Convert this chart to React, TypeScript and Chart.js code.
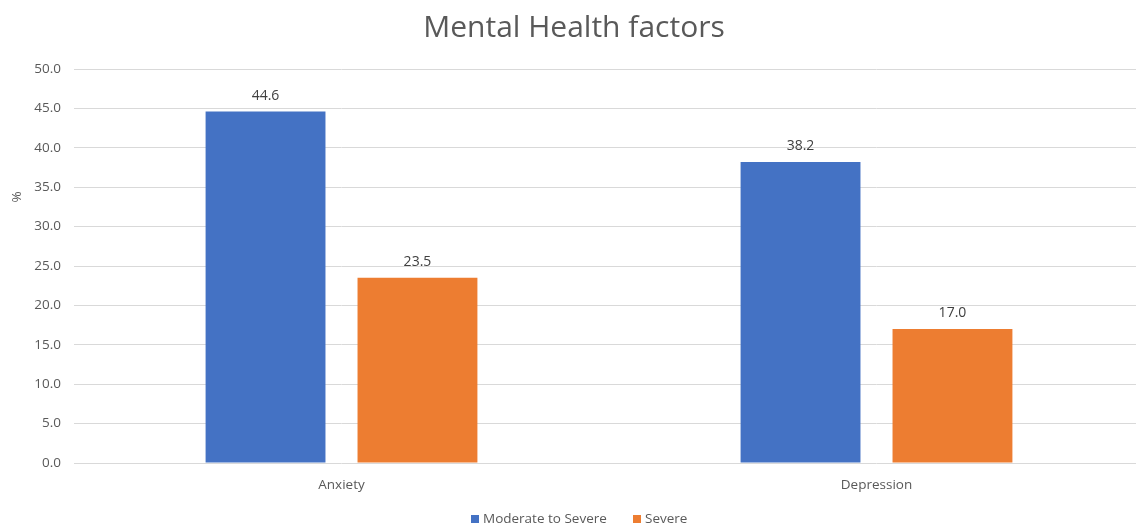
import React, { useEffect, useRef } from "react";
import { Chart, registerables } from "chart.js";

Chart.register(...registerables);

const categories = ["Anxiety", "Depression"];
const moderateToSevere = [44.6, 38.2];
const severe = [23.5, 17.0];
const seriesNames = ["Moderate to Severe", "Severe"];
const yTicksMax = 50;
const yTickStep = 5;
const titleText = "Mental Health factors";
const yAxisTitle = "%";

const BLUE = "#4472C4";
const ORANGE = "#ED7D31";
const TEXT = "#595959";
const FONT = "'Open Sans', 'Noto Sans', sans-serif";

export default function App() {
  const ref = useRef<HTMLCanvasElement | null>(null);

  useEffect(() => {
    if (!ref.current) return;

    const overlay = {
      id: "overlay",
      afterDatasetsDraw(chart: any) {
        const ctx = chart.ctx;
        ctx.save();
        ctx.fillStyle = "#404040";
        ctx.font = `14px ${FONT}`;
        ctx.textAlign = "center";
        ctx.textBaseline = "middle";
        chart.data.datasets.forEach((ds: any, di: number) => {
          const meta = chart.getDatasetMeta(di);
          meta.data.forEach((el: any, i: number) => {
            ctx.fillText(Number(ds.data[i]).toFixed(1), el.x, el.y - 16);
          });
        });
        ctx.restore();
      },
      afterDraw(chart: any) {
        const ctx = chart.ctx;
        ctx.save();
        ctx.fillStyle = TEXT;
        ctx.font = `30px ${FONT}`;
        ctx.textAlign = "center";
        ctx.textBaseline = "middle";
        ctx.fillText(titleText, 574, 28);
        ctx.save();
        ctx.translate(17, 197);
        ctx.rotate(-Math.PI / 2);
        ctx.font = `13.5px ${FONT}`;
        ctx.fillText(yAxisTitle, 0, 0);
        ctx.restore();
        ctx.font = `13.5px ${FONT}`;
        ctx.textAlign = "left";
        const colors = [BLUE, ORANGE];
        const xs = [471, 633];
        seriesNames.forEach((name, i) => {
          ctx.fillStyle = colors[i];
          ctx.fillRect(xs[i], 515, 8, 8);
          ctx.fillStyle = TEXT;
          ctx.fillText(name, xs[i] + 12, 519);
        });
        ctx.restore();
      },
    };

    const chart = new Chart(ref.current, {
      type: "bar",
      data: {
        labels: categories,
        datasets: [
          {
            label: seriesNames[0],
            data: moderateToSevere,
            backgroundColor: BLUE,
            categoryPercentage: 0.568,
            barPercentage: 0.789,
          },
          {
            label: seriesNames[1],
            data: severe,
            backgroundColor: ORANGE,
            categoryPercentage: 0.568,
            barPercentage: 0.789,
          },
        ],
      },
      options: {
        animation: false,
        responsive: false,
        maintainAspectRatio: false,
        layout: { padding: { top: 69, right: 4, left: 0, bottom: 0 } },
        plugins: {
          legend: { display: false },
          title: { display: false },
          tooltip: { enabled: false },
        },
        scales: {
          x: {
            grid: { display: false, drawTicks: false },
            border: { display: false },
            ticks: { color: TEXT, font: { family: FONT, size: 13.5 }, padding: 14 },
            afterFit(scale: any) {
              scale.height = 62;
            },
          },
          y: {
            min: 0,
            max: yTicksMax,
            grid: { color: "#D9D9D9", drawTicks: false, lineWidth: 1 },
            border: { display: false },
            ticks: {
              stepSize: yTickStep,
              color: TEXT,
              font: { family: FONT, size: 13.5 },
              padding: 13,
              callback: (v: any) => Number(v).toFixed(1),
            },
            afterFit(scale: any) {
              scale.width = 74;
            },
          },
        },
      },
      plugins: [overlay],
    });
    return () => chart.destroy();
  }, []);

  return (
    <div
      style={{
        position: "fixed",
        left: 0,
        top: 0,
        width: 1136,
        height: 525,
        overflow: "hidden",
        background: "#fff",
      }}
    >
      <canvas ref={ref} width={1148} height={525} style={{ display: "block" }} />
    </div>
  );
}
